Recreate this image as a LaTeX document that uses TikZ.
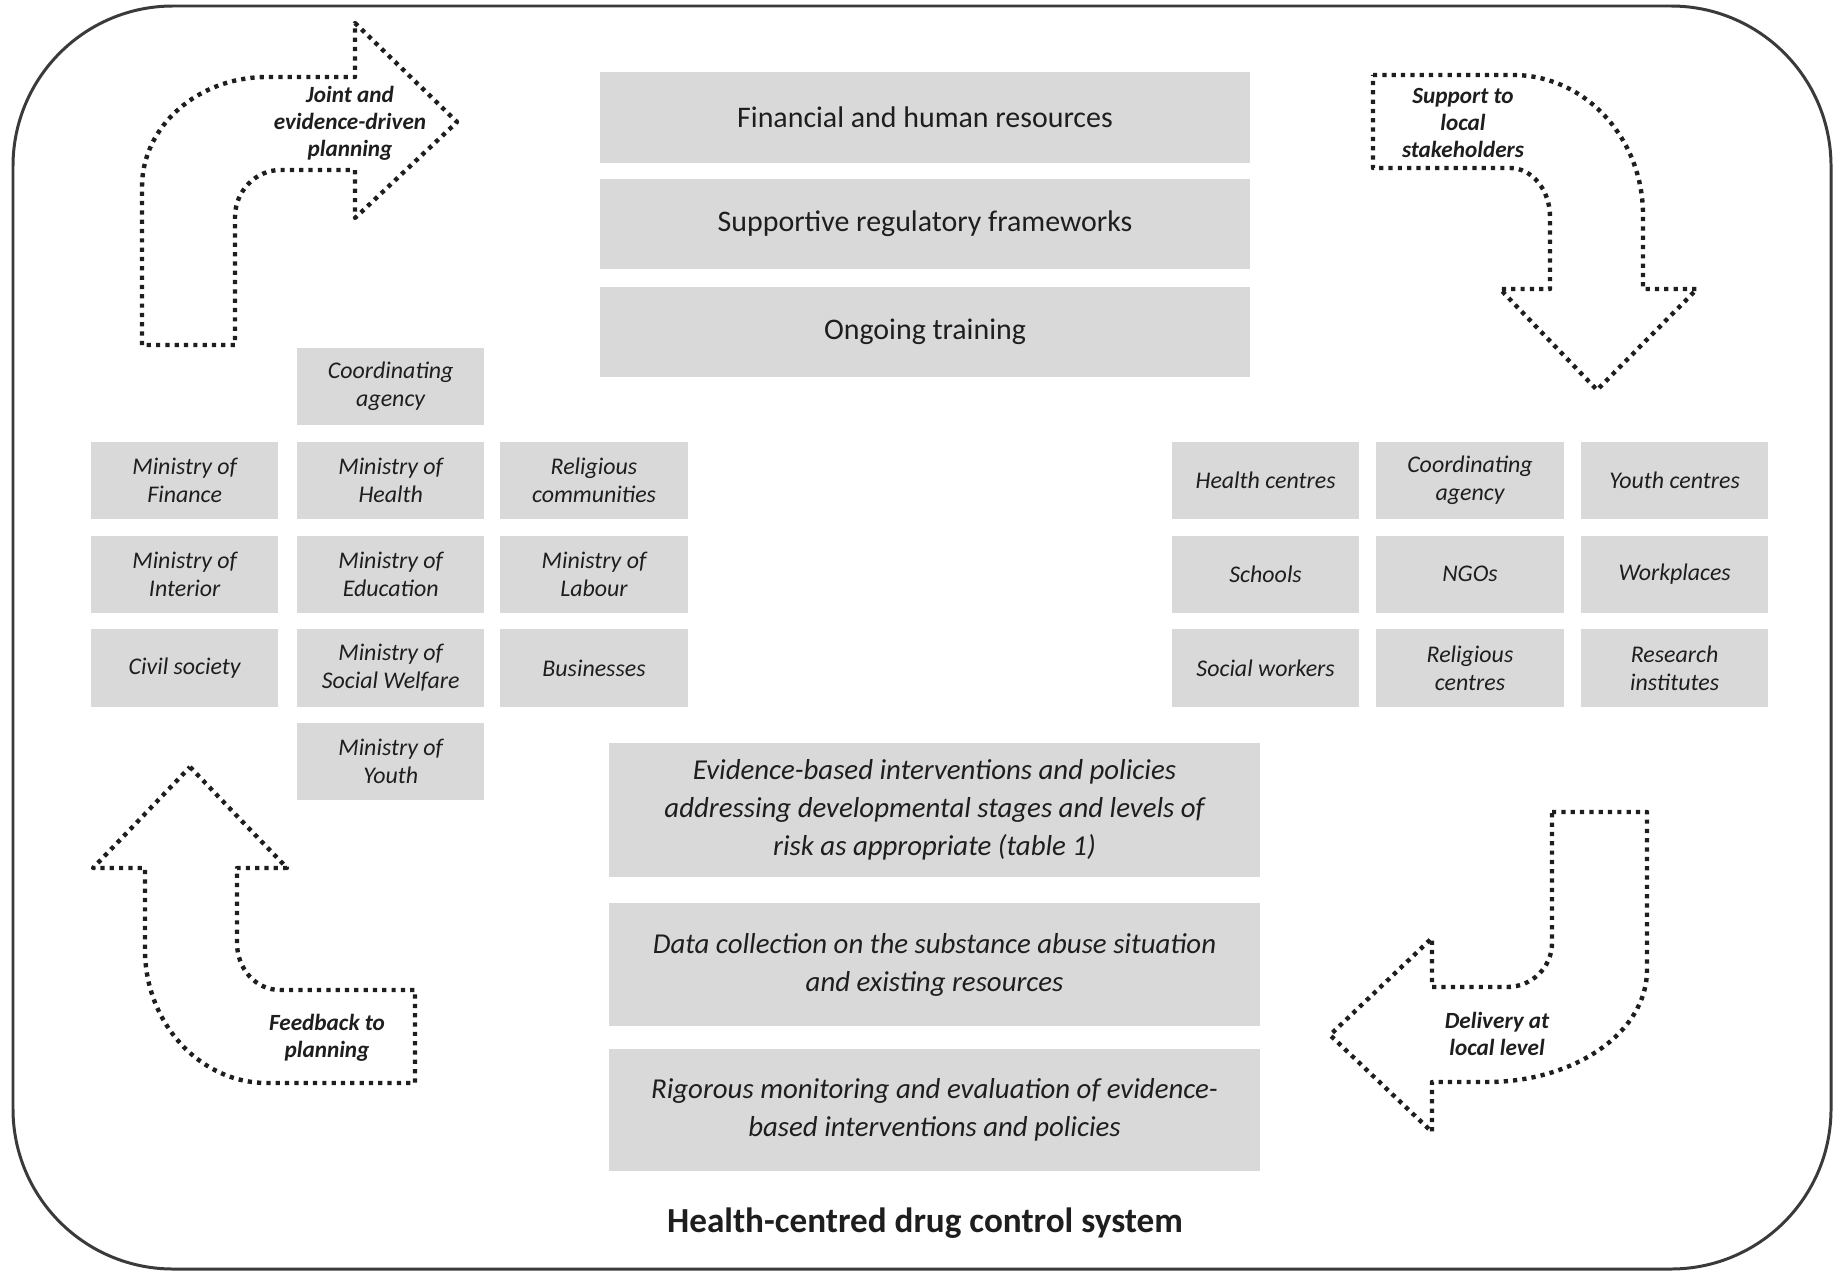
\documentclass[tikz,border=0pt]{standalone}
\usepackage{fontspec}
\setmainfont{Carlito}
\definecolor{boxgray}{HTML}{D9D9D9}
\definecolor{framegray}{HTML}{3A3A3A}
\definecolor{inkgray}{HTML}{1E1E1E}

\begin{document}
\begin{tikzpicture}[x=0.01cm, y=-0.01cm,
    topbox/.style={fill=boxgray, text=inkgray, minimum width=6.5cm, minimum height=0.9cm,
      inner sep=0pt, align=center, font=\fontsize{8.5}{10.7}\selectfont},
    evbox/.style={fill=boxgray, text=inkgray, minimum width=6.51cm, inner sep=0pt,
      align=center, font=\fontsize{8.2}{10.8}\selectfont\itshape},
    orgbox/.style={fill=boxgray, text=inkgray, minimum width=1.87cm, minimum height=0.77cm,
      inner sep=0pt, align=center, font=\fontsize{6.8}{8}\selectfont\itshape},
    flowline/.style={draw=inkgray, line width=1.25pt, dash pattern=on 1.2pt off 1.45pt, line join=round},
    flowtext/.style={text=inkgray, align=center, font=\fontsize{6.6}{7.7}\selectfont\bfseries\itshape}]

  \useasboundingbox (0,0) rectangle (1834,1273);
  \draw[framegray, line width=0.85pt, rounded corners=1.6cm] (13,6) rectangle (1831,1269);

  \begin{scope}
    \node[topbox] (fin) at (925,117.5) {Financial and human resources};
    \node[topbox] (reg) at (925,224) {Supportive regulatory frameworks};
    \node[topbox] (train) at (925,332) {Ongoing training};
  \end{scope}

  \begin{scope}
    \node[evbox, minimum height=1.34cm] (interv) at (934.5,810)
      {Evidence-based interventions and policies\\addressing developmental stages and levels of\\risk as appropriate (table 1)};
    \node[evbox, minimum height=1.23cm] (data) at (934.5,964.5)
      {Data collection on the substance abuse situation\\and existing resources};
    \node[evbox, minimum height=1.22cm] (monit) at (934.5,1110)
      {Rigorous monitoring and evaluation of evidence-\\based interventions and policies};
  \end{scope}

  \begin{scope}
    \node[orgbox] (ncoord) at (390.7,386.6) {Coordinating\\agency};
    \node[orgbox] (nfinance) at (184.7,480.6) {Ministry of\\Finance};
    \node[orgbox] (nhealth) at (390.7,480.6) {Ministry of\\Health};
    \node[orgbox] (nrelig) at (594,480.6) {Religious\\communities};
    \node[orgbox] (ninterior) at (184.7,574.3) {Ministry of\\Interior};
    \node[orgbox] (neduc) at (390.7,574.3) {Ministry of\\Education};
    \node[orgbox] (nlabour) at (594,574.3) {Ministry of\\Labour};
    \node[orgbox] (ncivil) at (184.7,668) {Civil society};
    \node[orgbox] (nwelfare) at (390.7,668) {Ministry of\\Social Welfare};
    \node[orgbox] (nbusiness) at (594,668) {Businesses};
    \node[orgbox] (nyouth) at (390.7,761.5) {Ministry of\\Youth};
  \end{scope}

  \begin{scope}
    \node[orgbox] (lhealth) at (1265.6,480.6) {Health centres};
    \node[orgbox] (lcoord) at (1470,480.6) {Coordinating\\agency};
    \node[orgbox] (lyouth) at (1674.6,480.6) {Youth centres};
    \node[orgbox] (lschools) at (1265.6,574.3) {Schools};
    \node[orgbox] (lngo) at (1470,574.3) {NGOs};
    \node[orgbox] (lwork) at (1674.6,574.3) {Workplaces};
    \node[orgbox] (lsocial) at (1265.6,668) {Social workers};
    \node[orgbox] (lrelig) at (1470,668) {Religious\\centres};
    \node[orgbox] (lresearch) at (1674.6,668) {Research\\institutes};
  \end{scope}

  \begin{scope}[flowline]
    \draw (142,345) -- (142,187) .. controls (142,126) and (198,77) .. (267,77) -- (355,77)
      -- (355,23) -- (457,122) -- (355,218) -- (355,170) -- (280,170)
      .. controls (256,170) and (235,191) .. (235,217) -- (235,345) -- cycle;
    \draw (1373,75) -- (1513,75) .. controls (1585,75) and (1643,138) .. (1643,215) -- (1643,289)
      -- (1697,289) -- (1597,390) -- (1500,289) -- (1550,289) -- (1550,217)
      .. controls (1550,190) and (1532,168) .. (1510,168) -- (1373,168) -- cycle;
    \draw (190,767) -- (287,868) -- (237,868) -- (237,943)
      .. controls (237,969) and (256,990) .. (280,990) -- (415,990) -- (415,1083) -- (267,1083)
      .. controls (200,1083) and (145,1023) .. (145,950) -- (145,868) -- (93,868) -- cycle;
    \draw (1552,812) -- (1647,812) -- (1647,970) .. controls (1647,1032) and (1575,1082) .. (1487,1082)
      -- (1432,1082) -- (1432,1132) -- (1330,1035) -- (1432,938) -- (1432,987) -- (1507,987)
      .. controls (1532,987) and (1552,967) .. (1552,943) -- cycle;
  \end{scope}

  \node[flowtext] (tplan) at (350,123) {Joint and\\evidence-driven\\planning};
  \node[flowtext] (tsupport) at (1463,123) {Support to\\local\\stakeholders};
  \node[flowtext] (tfeedback) at (327,1038) {Feedback to\\planning};
  \node[flowtext] (tdelivery) at (1497,1034) {Delivery at\\local level};

  \node[text=inkgray, font=\fontsize{10}{12}\selectfont\bfseries] (title) at (925,1223)
    {Health-centred drug control system};
\end{tikzpicture}
\end{document}
